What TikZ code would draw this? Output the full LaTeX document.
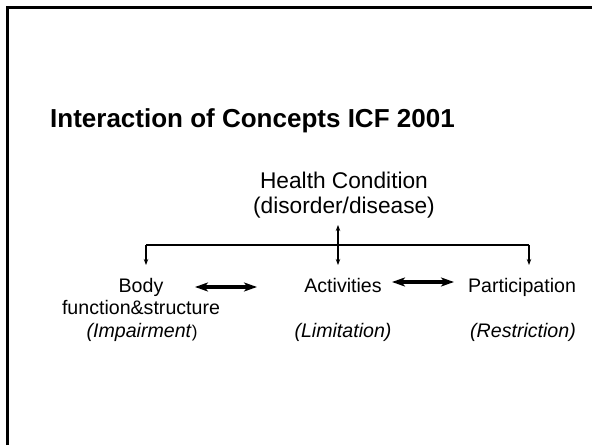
\documentclass[tikz,border=0pt]{standalone}
\usepackage{fontspec}
\setmainfont{Liberation Sans}
\usetikzlibrary{arrows.meta}
\begin{document}
\begin{tikzpicture}[x=1pt,y=1pt,
  lbl/.style={inner sep=0pt,font=\fontsize{19.6}{22}\selectfont},
  big/.style={inner sep=0pt,font=\fontsize{22.7}{26}\selectfont},
  conn/.style={line width=1.4pt,-{Stealth[length=6pt,width=4.5pt]}},
  link/.style={line width=1.4pt},
  dbl/.style={line width=3.2pt,{Stealth[length=13pt,width=9pt,inset=3.5pt]}-{Stealth[length=13pt,width=9pt,inset=3.5pt]}}]
\useasboundingbox (0,0) rectangle (592,445);
\fill[white] (0,0) rectangle (592,445);
% frame
\coordinate (f1) at (7,0);
\coordinate (f2) at (7,437);
\coordinate (f3) at (592,437);
\draw[line width=3pt] (f1) -- (f2) -- (f3);
% title
\node[anchor=base west,inner sep=0pt,font=\fontsize{26}{30}\selectfont\bfseries] (title) at (50,317) {Interaction of Concepts ICF 2001};
% health condition
\node[big,anchor=base] (hc1) at (344,256) {Health Condition};
\node[big,anchor=base] (hc2) at (344,231) {(disorder/disease)};
% lower row
\node[lbl,anchor=base] (body1) at (141,152) {Body};
\node[lbl,anchor=base] (body2) at (141,130) {function\&structure};
\node[lbl,anchor=base] (body3) at (142,108) {\textit{(Impairment}{\fontsize{17}{20}\selectfont)}};
\node[lbl,anchor=base] (act1) at (343,152) {Activities};
\node[lbl,anchor=base] (act2) at (343,108) {\textit{(Limitation)}};
\node[lbl,anchor=base] (par1) at (522,152) {Participation};
\node[lbl,anchor=base] (par2) at (523,108) {\textit{(Restriction)}};
% connectors
\coordinate (jl) at (146,200);
\coordinate (jm) at (338,200);
\coordinate (jr) at (529,200);
\coordinate (tl) at (146,180);
\coordinate (tm) at (338,180);
\coordinate (tr) at (529,180);
\coordinate (tu) at (338,220);
\draw[link] (jl) -- (jr);
\draw[conn] (jl) -- (tl);
\draw[conn] (jm) -- (tm);
\draw[conn] (jr) -- (tr);
\draw[conn] (jm) -- (tu);
\coordinate (a1) at (195,158);
\coordinate (a2) at (257,158);
\coordinate (b1) at (392,163);
\coordinate (b2) at (454,163);
\draw[dbl] (a1) -- (a2);
\draw[dbl] (b1) -- (b2);
\end{tikzpicture}
\end{document}
